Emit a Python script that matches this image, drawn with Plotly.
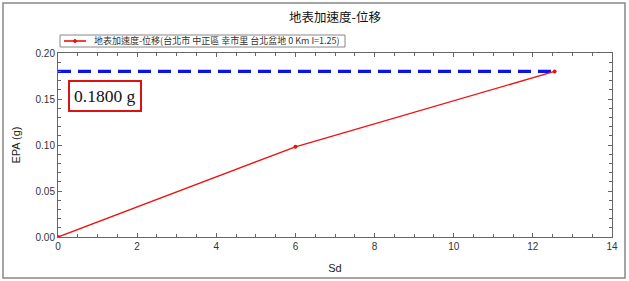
import plotly.graph_objects as go

sd = [0, 6.0, 12.55]
epa = [0, 0.098, 0.18]
ref_x = [0, 12.55]
ref_y = [0.18, 0.18]
series_name = "地表加速度-位移(台北市 中正區 幸市里 台北盆地 0 Km I=1.25)"
title = "地表加速度-位移"
label = "0.1800 g"

W, H = 629, 281
L, R, T, B = 58, 17, 53, 44
pw, ph = W - L - R, H - T - B

def px(x):
    return (x - L) / pw

def py(y):
    return (H - B - y) / ph

RED = "#ee1111"

fig = go.Figure()
fig.add_trace(go.Scatter(
    x=ref_x, y=ref_y, mode="lines", showlegend=False,
    line=dict(color="#0a14e6", width=3.2, dash="13px,7px"), hoverinfo="skip"))
fig.add_trace(go.Scatter(
    x=sd, y=epa, mode="lines+markers", name=series_name, showlegend=False,
    line=dict(color=RED, width=1.4),
    marker=dict(color=RED, size=4, symbol="circle")))

axis_common = dict(
    showgrid=False, zeroline=False, showline=True, linecolor="#666666", linewidth=1,
    mirror="allticks", ticks="inside", ticklen=4, tickcolor="#666666", automargin=False,
    tickfont=dict(family="Liberation Sans, Arial", size=10, color="#333333"),
    title_font=dict(family="Liberation Sans, Arial", size=11, color="#222222"),
)
fig.update_xaxes(range=[0, 14], dtick=2, tickformat="d",
                 minor=dict(dtick=0.5, ticks="inside", ticklen=3, tickcolor="#666666"),
                 title_text="Sd", title_standoff=13, **axis_common)
fig.update_yaxes(range=[0, 0.2], dtick=0.05, tickformat=".2f",
                 minor=dict(dtick=0.01, ticks="inside", ticklen=3, tickcolor="#666666"),
                 title_text="EPA (g)", title_standoff=12, **axis_common)

fig.add_annotation(
    xref="paper", yref="paper", x=px(68), y=py(80), xanchor="left", yanchor="top",
    text=label, showarrow=False,
    font=dict(family="Liberation Serif, Times New Roman", size=17.5, color="#111111"),
    bordercolor="#dd1111", borderwidth=2, borderpad=4, bgcolor="white")

# legend box (drawn manually to match the compact original legend)
fig.add_shape(type="rect", xref="paper", yref="paper",
              x0=px(60), x1=px(345), y0=py(47), y1=py(35),
              line=dict(color="#888888", width=1), fillcolor="white")
fig.add_shape(type="line", xref="paper", yref="paper",
              x0=px(64), x1=px(86), y0=py(41), y1=py(41),
              line=dict(color=RED, width=1.6))
fig.add_shape(type="circle", xref="paper", yref="paper",
              x0=px(73.5), x1=px(76.5), y0=py(42.5), y1=py(39.5),
              line=dict(color=RED, width=1), fillcolor=RED)
fig.add_annotation(
    xref="paper", yref="paper", x=px(92), y=py(41), xanchor="left", yanchor="middle",
    text=series_name, showarrow=False,
    font=dict(family="Noto Sans CJK TC", size=9, color="#333333"))

fig.add_shape(type="rect", xref="paper", yref="paper",
              x0=px(3), x1=px(625), y0=py(278), y1=py(3),
              line=dict(color="#888888", width=1.5), layer="below")

fig.update_layout(
    width=W, height=H, margin=dict(l=L, r=R, t=T, b=B),
    paper_bgcolor="white", plot_bgcolor="white",
    title=dict(text=title, x=0.5, xref="paper", y=1 - 18 / H, yanchor="middle",
               font=dict(family="Noto Sans CJK TC", size=12.5, color="#111111")),
    showlegend=False,
)

fig.write_html("out.html")
